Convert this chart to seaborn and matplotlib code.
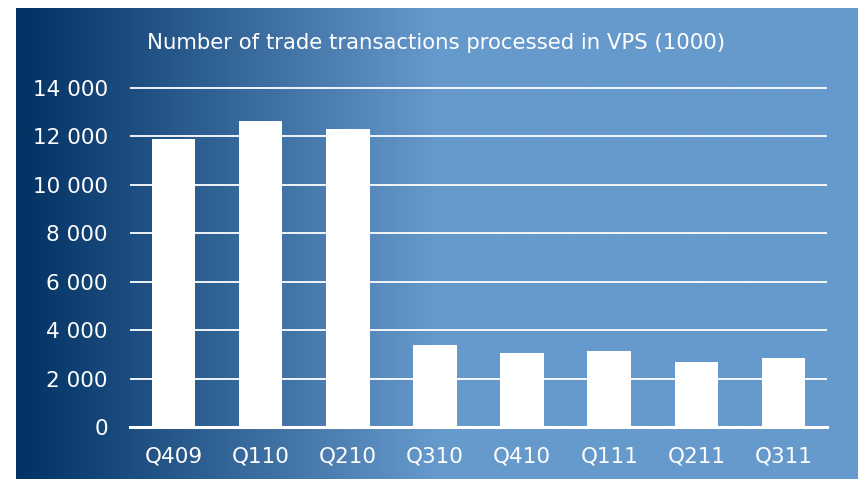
import numpy as np
import pandas as pd
import matplotlib
matplotlib.use("Agg")
import matplotlib.pyplot as plt
import seaborn as sns
from matplotlib.colors import LinearSegmentedColormap

quarters = ["Q409", "Q110", "Q210", "Q310", "Q410", "Q111", "Q211", "Q311"]
transactions = [11900, 12650, 12300, 3390, 3070, 3150, 2670, 2840]
ytick_values = [0, 2000, 4000, 6000, 8000, 10000, 12000, 14000]
ytick_labels = ["0", "2 000", "4 000", "6 000", "8 000", "10 000", "12 000", "14 000"]
title = "Number of trade transactions processed in VPS (1000)"

df = pd.DataFrame({"quarter": quarters, "value": transactions})

W, H = 858, 479
fig = plt.figure(figsize=(W / 100, H / 100), dpi=100)
fig.patch.set_facecolor("white")

# gradient background panel
bg = fig.add_axes([16 / W, 0, (W - 16) / W, (H - 8) / H])
cmap = LinearSegmentedColormap.from_list(
    "bg", [(0.0, "#023163"), (0.5, "#6699cc"), (1.0, "#6699cc")])
grad = np.linspace(0, 1, 512).reshape(1, -1)
bg.imshow(grad, aspect="auto", cmap=cmap, extent=[0, 1, 0, 1])
bg.set_axis_off()

ytop = 14100
x0, x1 = 130, 827
y0px, y14px = 427, 88
top_px = y0px - (y0px - y14px) * ytop / 14000
ax = fig.add_axes([x0 / W, (H - y0px) / H, (x1 - x0) / W, (y0px - top_px) / H])
ax.patch.set_alpha(0)

sns.barplot(data=df, x="quarter", y="value", color="white", width=0.5,
            saturation=1, edgecolor="none", ax=ax, zorder=3)
ax.set_ylim(0, ytop)
ax.set_xlim(-0.5, len(quarters) - 0.5)
ax.set_yticks(ytick_values)
ax.set_yticklabels(ytick_labels)
ax.set_xlabel("")
ax.set_ylabel("")
for s in ax.spines.values():
    s.set_visible(False)
ax.yaxis.grid(True, color="white", linewidth=1.3, zorder=1)
ax.set_axisbelow(True)
ax.axhline(0, color="white", linewidth=2.2, zorder=2, clip_on=False)
ax.tick_params(axis="both", length=0, colors="white", labelsize=15.5)
ax.tick_params(axis="y", pad=16)
ax.tick_params(axis="x", pad=14)

fig.text(436 / W, 1 - 43 / H, title, color="white", fontsize=15.3,
         ha="center", va="center")

fig.savefig("out.png", dpi=100)
